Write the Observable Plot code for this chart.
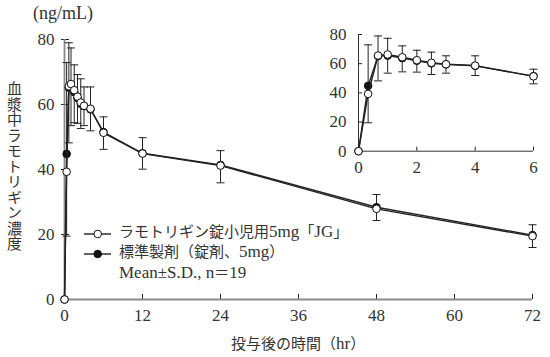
<!DOCTYPE html>
<html><head><meta charset="utf-8">
<script src="https://cdn.jsdelivr.net/npm/d3@7"></script>
<script src="https://cdn.jsdelivr.net/npm/@observablehq/plot@0.6"></script>
<style>
body{margin:0;background:#fff;}
#wrap{position:relative;width:550px;height:357px;overflow:hidden;font-family:"Liberation Serif","Noto Sans CJK JP",serif;color:#333;}
#wrap > svg{position:absolute;overflow:visible;background:transparent;}
.lab{position:absolute;white-space:nowrap;line-height:1;}
.lat{font-family:"Liberation Serif",serif;font-size:17px;}
#ytitle{left:7px;top:81px;font-size:15px;writing-mode:vertical-rl;letter-spacing:0.5px;font-family:"Noto Sans CJK JP",sans-serif;}
#yunit{left:33px;top:4px;font-size:18px;}
#xtitle{left:231px;top:335px;font-size:15px;}
.leg{position:absolute;left:84px;font-size:15px;white-space:nowrap;height:20px;line-height:20px;}
.leg svg{vertical-align:middle;}
</style></head><body><div id="wrap"></div><script>
// ---- data ----
const times    = [0, 0.33, 0.67, 1, 1.5, 2, 2.5, 3, 4, 6, 12, 24, 48, 72];
const testMean = [0, 39.3, 65.6, 66.3, 64.4, 62.4, 60.6, 59.6, 58.7, 51.3, 44.9, 41.2, 27.9, 19.5];
const testSD   = [0, 19.8, 17.4, 12.8, 10.0, 8.2, 8.0, 6.1, 6.8, 5.1, 4.8, 5.3, 3.6, 3.5];
const refMean  = [0, 44.8, 65.2, 65.5, 63.8, 62.0, 60.2, 59.5, 58.5, 51.5, 45.0, 41.4, 28.4, 19.8];
const refSD    = [0, 28.1, 13.8, 11.9, 8.4, 7.2, 7.7, 5.9, 6.9, 4.7, 4.8, 4.4, 3.9, 3.2];
const mainXTicks  = [0, 12, 24, 36, 48, 60, 72];
const mainYTicks  = [0, 20, 40, 60, 80];
const insetXTicks = [0, 2, 4, 6];
const insetYTicks = [0, 20, 40, 60, 80];
const testLabel = "ラモトリギン錠小児用5mg「JG」";
const refLabel  = "標準製剤（錠剤、5mg）";
const statLabel = "Mean±S.D., n＝19";
const yTitle = "血漿中ラモトリギン濃度";
const yUnit  = "(ng/mL)";
const xTitle = "投与後の時間（hr）";

const test = times.map((t, i) => ({t, m: testMean[i], sd: testSD[i]}));
const ref  = times.map((t, i) => ({t, m: refMean[i], sd: refSD[i]}));

const capSymbol = {draw(ctx, size) { const r = Math.sqrt(size / Math.PI); ctx.moveTo(-r, 0); ctx.lineTo(r, 0); }};
const INK = "#222";
const FONT = '"Liberation Serif","Noto Sans CJK JP",serif';

function chart(cfg) {
  const tD = test.filter(d => d.t <= cfg.xmax);
  const rD = ref.filter(d => d.t <= cfg.xmax);
  const fw = cfg.width - cfg.ml - cfg.mr, fh = cfg.height - cfg.mt - cfg.mb;
  return Plot.plot({
    width: cfg.width, height: cfg.height,
    marginLeft: cfg.ml, marginRight: cfg.mr, marginTop: cfg.mt, marginBottom: cfg.mb,
    x: {domain: [0, cfg.xmax]},
    y: {domain: [0, 80]},
    style: {fontFamily: FONT, fontSize: cfg.fs + "px", color: "#333", background: "transparent", overflow: "visible"},
    marks: [
      Plot.axisX(cfg.xticks, {tickSize: 0, tickPadding: cfg.xpad, fontSize: cfg.fs, label: null}),
      Plot.axisY(cfg.yticks, {tickSize: 0, tickPadding: cfg.ypad, fontSize: cfg.fs, label: null}),
      Plot.tickY(cfg.yticks, {y: d => d, insetLeft: -cfg.tickOut, insetRight: fw - cfg.tickIn, stroke: INK, strokeWidth: 1}),
      Plot.tickX(cfg.xticks, {x: d => d, insetTop: fh - cfg.tickIn, stroke: INK, strokeWidth: 1}),
      Plot.ruleX([0], {stroke: cfg.axisColor, strokeWidth: cfg.axisWidth}),
      Plot.ruleY([0], {stroke: cfg.axisColor, strokeWidth: cfg.axisWidth}),
      // error bars: test (lower), reference (upper)
      Plot.ruleX(tD.filter(d => d.sd > 0), {x: "t", y1: "m", y2: d => d.m - d.sd, stroke: INK, strokeWidth: 1}),
      Plot.dot(tD.filter(d => d.sd > 0), {x: "t", y: d => d.m - d.sd, symbol: capSymbol, r: 4, fill: "none", stroke: INK, strokeWidth: 1}),
      Plot.ruleX(rD.filter(d => d.sd > 0), {x: "t", y1: "m", y2: d => d.m + d.sd, stroke: INK, strokeWidth: 1}),
      Plot.dot(rD.filter(d => d.sd > 0), {x: "t", y: d => d.m + d.sd, symbol: capSymbol, r: 4, fill: "none", stroke: INK, strokeWidth: 1}),
      // reference series
      Plot.line(rD, {x: "t", y: "m", stroke: INK, strokeWidth: 1.4}),
      Plot.dot(rD, {x: "t", y: "m", r: cfg.r, fill: "#111", stroke: "#111", strokeWidth: 1}),
      // test series
      Plot.line(tD, {x: "t", y: "m", stroke: INK, strokeWidth: 1.4}),
      Plot.dot(tD, {x: "t", y: "m", r: cfg.r, fill: "white", stroke: "#111", strokeWidth: 1})
    ]
  });
}

const wrap = document.getElementById("wrap");

const mainSvg = chart({width: 550, height: 357, ml: 64, mr: 18, mt: 39, mb: 58, xmax: 72,
  xticks: mainXTicks, yticks: mainYTicks, fs: 17, xpad: 9, ypad: 10, tickIn: 5, tickOut: 3,
  axisColor: "#8a8a8a", axisWidth: 1.8, r: 3.8});
mainSvg.style.left = "0px"; mainSvg.style.top = "0px";
wrap.appendChild(mainSvg);

const insetSvg = chart({width: 220, height: 160, ml: 28, mr: 17, mt: 14, mb: 29.3, xmax: 6,
  xticks: insetXTicks, yticks: insetYTicks, fs: 17, xpad: 10, ypad: 12, tickIn: 4, tickOut: 0,
  axisColor: "#333", axisWidth: 1, r: 3.8});
insetSvg.style.left = "330px"; insetSvg.style.top = "20px";
wrap.appendChild(insetSvg);

// put Latin runs in a slightly larger serif, as the reference's font does
function fillMixed(el, text) {
  const re = /[A-Za-z0-9.,±()/]+(?:[ .,±][A-Za-z0-9.,±()/]+)*/g;
  let last = 0, m;
  while ((m = re.exec(text))) {
    if (m.index > last) el.appendChild(document.createTextNode(text.slice(last, m.index)));
    const s = document.createElement("span"); s.className = "lat"; s.textContent = m[0];
    el.appendChild(s); last = m.index + m[0].length;
  }
  if (last < text.length) el.appendChild(document.createTextNode(text.slice(last)));
}

function addLabel(id, text, mixed) {
  const d = document.createElement("div");
  d.className = "lab"; d.id = id;
  if (mixed) fillMixed(d, text); else d.textContent = text;
  wrap.appendChild(d);
}
addLabel("ytitle", yTitle, false);
addLabel("yunit", yUnit, false);
addLabel("xtitle", xTitle, true);

function legendRow(top, filled, text) {
  const row = document.createElement("div");
  row.className = "leg"; row.style.top = (top - 10) + "px";
  const ns = "http://www.w3.org/2000/svg";
  const s = document.createElementNS(ns, "svg");
  s.setAttribute("width", 35); s.setAttribute("height", 20);
  if (filled !== null) {
    const ln = document.createElementNS(ns, "line");
    ln.setAttribute("x1", 0); ln.setAttribute("x2", 27); ln.setAttribute("y1", 10); ln.setAttribute("y2", 10);
    ln.setAttribute("stroke", INK); ln.setAttribute("stroke-width", 1.4);
    const c = document.createElementNS(ns, "circle");
    c.setAttribute("cx", 13.7); c.setAttribute("cy", 10); c.setAttribute("r", 3.8);
    c.setAttribute("fill", filled ? "#111" : "white"); c.setAttribute("stroke", "#111");
    s.appendChild(ln); s.appendChild(c);
  }
  row.appendChild(s);
  const sp = document.createElement("span"); fillMixed(sp, text); row.appendChild(sp);
  wrap.appendChild(row);
}
legendRow(232, false, testLabel);
legendRow(252, true, refLabel);
legendRow(273, null, statLabel);
</script></body></html>
